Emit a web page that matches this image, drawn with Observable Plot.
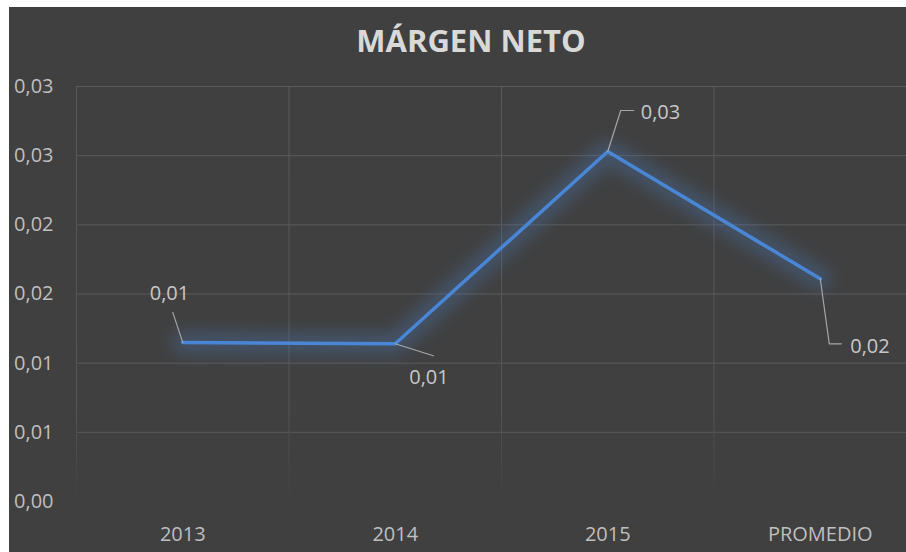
<!DOCTYPE html>
<html>
<head>
<meta charset="utf-8">
<script src="https://cdn.jsdelivr.net/npm/d3@7"></script>
<script src="https://cdn.jsdelivr.net/npm/@observablehq/plot@0.6"></script>
<style>
  html, body { margin: 0; padding: 0; background: #ffffff; }
  #chart { position: absolute; left: 9px; top: 7px; width: 897px; height: 545px; background: #404040; overflow: hidden; }
  #title { position: absolute; left: 0; top: 14px; width: 924px; text-align: center; font-family: "Open Sans", sans-serif; font-weight: 700; font-size: 31px; line-height: 38px; color: #d9d9d9; z-index: 2; }
  #plot { position: absolute; left: 0; top: 0; }
</style>
</head>
<body>
<div id="chart">
  <div id="title">MÁRGEN NETO</div>
  <div id="plot"></div>
</div>
<script>
// ---- data ----
const categories = ["2013", "2014", "2015", "PROMEDIO"];
const margenNeto = [0.0115, 0.0114, 0.0253, 0.0161];
const yTicks = [0, 0.005, 0.01, 0.015, 0.02, 0.025, 0.03];
const yTickLabels = ["0,00", "0,01", "0,01", "0,02", "0,02", "0,03", "0,03"];

// ---- layout (pixels, not data) ----
const W = 897, H = 545;
const leaderOffsets = [
  [[0, 0], [-10, -30]],
  [[0, 0], [38, 12]],
  [[0, 0], [13, -41], [26, -41]],
  [[0, 0], [9, 65], [21, 65]]
];
const labelOffsets = [[-33, -49], [14, 34], [33, -39], [30, 68]];

const fmt = v => v.toFixed(2).replace(".", ",");
const data = categories.map((c, i) => ({i, cat: c, v: margenNeto[i], label: fmt(margenNeto[i])}));

const xOpts = {type: "linear", domain: [-0.5, categories.length - 0.5], range: [67, 917]};
const yOpts = {type: "linear", domain: [0, 0.03], range: [494, 79]};
const xs = Plot.scale({x: xOpts});
const ys = Plot.scale({y: yOpts});
const shift = (i, v, ox, oy) => ({
  x: xs.invert(xs.apply(i) + ox),
  y: ys.invert(ys.apply(v) + oy)
});

const leaders = [];
data.forEach(d => leaderOffsets[d.i].forEach(([ox, oy]) => leaders.push({i: d.i, ...shift(d.i, d.v, ox, oy)})));
const labels = data.map(d => ({label: d.label, ...shift(d.i, d.v, labelOffsets[d.i][0], labelOffsets[d.i][1])}));

const plot = Plot.plot({
  width: W,
  height: H,
  marginLeft: 67,
  marginRight: 0,
  marginTop: 79,
  marginBottom: 51,
  x: xOpts,
  y: yOpts,
  style: {background: "transparent", color: "#bfbfbf", fontFamily: "'Open Sans', sans-serif", fontSize: "20px", overflow: "visible"},
  marks: [
    Plot.gridY(yTicks.filter(t => t > 0), {stroke: "#5a5a5a", strokeOpacity: 1, strokeWidth: 1}),
    Plot.ruleX(categories.map((_, i) => i - 0.5), {y1: 0, y2: 0.03, stroke: "url(#vfade)", strokeWidth: 1}),
    Plot.axisY({ticks: yTicks, tickFormat: d => yTickLabels[yTicks.indexOf(d)], tickSize: 0, tickPadding: 23, fontSize: 20}),
    Plot.axisX({ticks: categories.map((_, i) => i), tickFormat: i => categories[i], tickSize: 0, tickPadding: 25, fontSize: 20}),
    Plot.line(data, {x: "i", y: "v", stroke: "#4a86d6", strokeWidth: 22, strokeOpacity: 0.28, strokeLinejoin: "round", strokeLinecap: "round"}),
    Plot.line(data, {x: "i", y: "v", stroke: "#4a86d6", strokeWidth: 3.5, strokeLinejoin: "miter"}),
    Plot.line(leaders, {x: "x", y: "y", z: "i", stroke: "#a6a6a6", strokeWidth: 1.2}),
    Plot.text(labels, {x: "x", y: "y", text: "label", textAnchor: "start", fill: "#c8c8c8", fontSize: 20})
  ]
});

const svg = d3.select(plot);
const defs = svg.insert("defs", ":first-child");
const grad = defs.append("linearGradient").attr("id", "vfade").attr("gradientUnits", "userSpaceOnUse")
  .attr("x1", 0).attr("y1", 79).attr("x2", 0).attr("y2", 494);
grad.append("stop").attr("offset", "0%").attr("stop-color", "#5a5a5a");
grad.append("stop").attr("offset", "78%").attr("stop-color", "#555555");
grad.append("stop").attr("offset", "100%").attr("stop-color", "#404040");
defs.append("filter").attr("id", "glow").attr("filterUnits", "userSpaceOnUse")
  .attr("x", 0).attr("y", 0).attr("width", W).attr("height", H)
  .append("feGaussianBlur").attr("stdDeviation", 8);
const lineGroups = svg.selectAll('g[aria-label="line"]').nodes();
if (lineGroups.length) d3.select(lineGroups[0]).attr("filter", "url(#glow)");

document.getElementById("plot").appendChild(plot);
</script>
</body>
</html>
